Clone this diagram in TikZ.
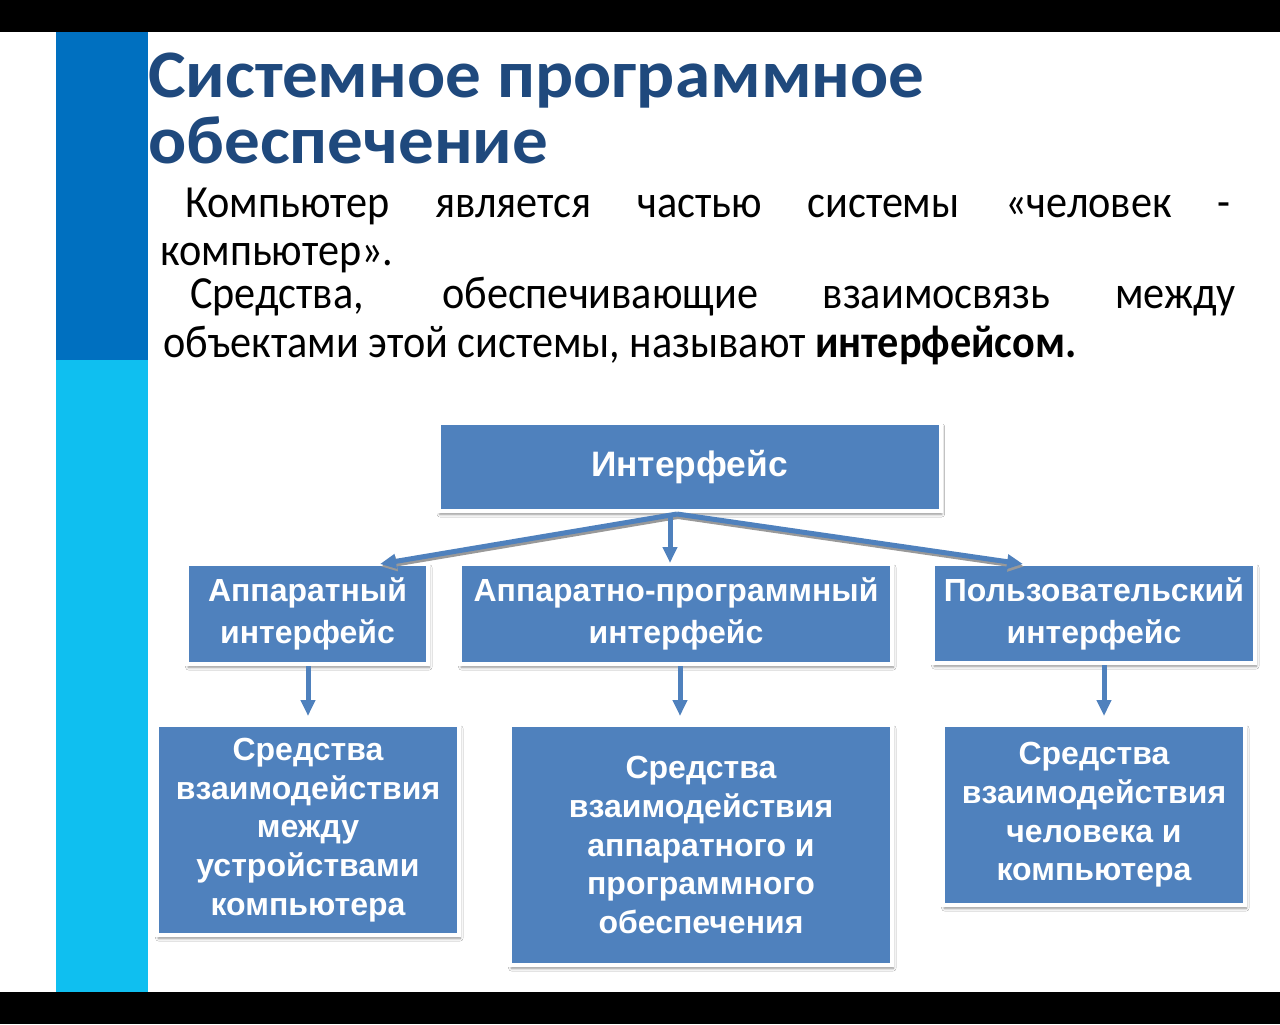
\documentclass[tikz,border=0pt]{standalone}
\usepackage{fontspec}
\setmainfont{Carlito}
\newfontfamily\arialfont{Liberation Sans}
\usetikzlibrary{arrows.meta,shadows.blur}
\definecolor{boxblue}{HTML}{4F81BD}
\definecolor{stripedark}{HTML}{0070C0}
\definecolor{stripelight}{HTML}{0FBFF0}
\definecolor{titleblue}{HTML}{1F497D}
% horizontally condensed / widened text
\newcommand{\bodyline}[1]{\scalebox{0.918}[1]{#1}}
\newcommand{\headline}[1]{\scalebox{1.046}[1]{#1}}
\begin{document}
\begin{tikzpicture}[x=0.75pt,y=-0.75pt,
  card/.style={draw=white, line width=3pt, fill=boxblue, text=white, align=center,
    inner sep=0pt, font=\arialfont\bfseries\fontsize{24}{29}\selectfont,
    blur shadow={shadow xshift=1pt, shadow yshift=-2.5pt, shadow blur radius=2pt, shadow opacity=45}},
  midcard/.style={card, font=\arialfont\bfseries\fontsize{24}{31.5}\selectfont},
  link/.style={draw=boxblue, line width=3.75pt, -{Triangle[length=12pt,width=10.5pt]}},
  linkshade/.style={draw=black!40, line width=3.75pt, -{Triangle[length=12pt,width=10.5pt]},
    transform canvas={shift={(1,2.5)}}},
  bodytext/.style={inner sep=0pt, anchor=base west, text height=24pt, text depth=3pt,
    font=\fontsize{34.5}{42}\selectfont},
  titletext/.style={inner sep=0pt, anchor=base west, text=titleblue,
    font=\bfseries\fontsize{51}{60}\selectfont}]

% page, black bands and side stripe
\useasboundingbox (0,0) rectangle (1280,1024);
\fill[white] (0,0) rectangle (1280,1024);
\fill[black] (0,0) rectangle (1280,32);
\fill[black] (0,992) rectangle (1280,1024);
\fill[stripedark] (56,32) rectangle (148,360);
\fill[stripelight] (56,360) rectangle (148,992);

% heading
\node[titletext] (t1) at (148,98) {\headline{Системное программное}};
\node[titletext] (t2) at (148,163) {\headline{обеспечение}};

% introduction
\node[bodytext] (p1) at (185,217) {\bodyline{\makebox[853.8pt][s]{Компьютер является частью системы «человек -}}};
\node[bodytext] (p2) at (160,265) {\bodyline{компьютер».}};
\node[bodytext] (p3) at (190,308) {\bodyline{\makebox[853.8pt][s]{Средства, обеспечивающие взаимосвязь между}}};
\node[bodytext] (p4) at (163,357) {\bodyline{объектами этой системы, называют \textbf{интерфейсом.}}};

% boxes
\node[card, minimum width=502*0.75pt, minimum height=88*0.75pt,
  font=\arialfont\bfseries\fontsize{26.5}{31}\selectfont] (top) at (689.5,467) {Интерфейс};
\node[midcard, minimum width=241*0.75pt, minimum height=100*0.75pt] (hw) at (307.5,614) {Аппаратный\\интерфейс};
\node[midcard, minimum width=432*0.75pt, minimum height=100*0.75pt] (hsw) at (676,614) {Аппаратно-программный\\интерфейс};
\node[midcard, minimum width=322*0.75pt, minimum height=99*0.75pt] (ui) at (1094,613.5) {Пользовательский\\интерфейс};
\node[card, minimum width=302*0.75pt, minimum height=210*0.75pt] (b1) at (308,830)
  {Средства\\взаимодействия\\между\\устройствами\\компьютера};
\node[card, minimum width=382*0.75pt, minimum height=240*0.75pt] (b2) at (701,845)
  {Средства\\взаимодействия\\аппаратного и\\программного\\обеспечения};
\node[card, minimum width=302*0.75pt, minimum height=180*0.75pt] (b3) at (1094,815)
  {Средства\\взаимодействия\\человека и\\компьютера};

% connectors
\coordinate (apex) at (677,514);
\coordinate (hwtip) at (380,564);
\coordinate (uitip) at (1023,564);
\coordinate (midtip) at (670,563);
\coordinate (d1) at (308,716);
\coordinate (d2) at (680,716);
\coordinate (d3) at (1104,716);

\draw[linkshade] (apex) -- (hwtip);
\draw[linkshade] (apex) -- (uitip);
\draw[link] (apex) -- (hwtip);
\draw[link] (apex) -- (uitip);
\draw[link] (top.south -| midtip) -- (midtip);
\draw[link] (hw.south -| d1) -- (d1);
\draw[link] (hsw.south -| d2) -- (d2);
\draw[link] (ui.south -| d3) -- (d3);
\end{tikzpicture}
\end{document}
